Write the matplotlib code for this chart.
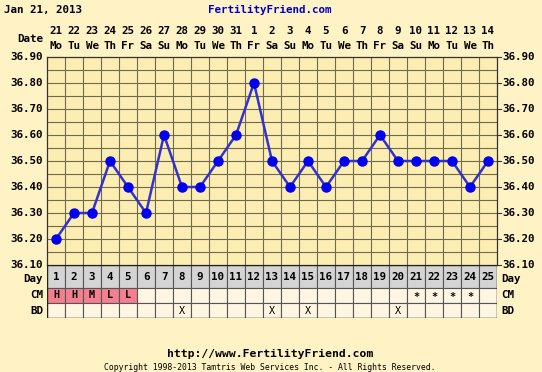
import matplotlib
matplotlib.use("Agg")
import matplotlib.pyplot as plt
import matplotlib.transforms as mtransforms
from matplotlib.patches import Rectangle
import numpy as np

days = list(range(1, 26))
dates = ["21","22","23","24","25","26","27","28","29","30","31","1","2","3","4","5","6","7","8","9","10","11","12","13","14"]
weekdays = ["Mo","Tu","We","Th","Fr","Sa","Su","Mo","Tu","We","Th","Fr","Sa","Su","Mo","Tu","We","Th","Fr","Sa","Su","Mo","Tu","We","Th"]
temps = [36.20,36.30,36.30,36.50,36.40,36.30,36.60,36.40,36.40,36.50,36.60,36.80,36.50,
         36.40,36.50,36.40,36.50,36.50,36.60,36.50,36.50,36.50,36.50,36.40,36.50]
cm = ["H","H","M","L","L","","","","","","","","","","","","","","","","*","*","*","*",""]
cm_pink = [True]*5 + [False]*20
bd = ["","","","","","","","X","","","","","X","","X","","","","","X","","","","",""]
yticks = [36.10,36.20,36.30,36.40,36.50,36.60,36.70,36.80,36.90]

W, H = 542, 372
BG = "#FFF3C6"
PLOT_BG = "#FCEDB3"
CELL = "#FFF6E2"
GRID = "#6F6A4E"
MONO = "DejaVu Sans Mono"

fig = plt.figure(figsize=(W/100, H/100), dpi=100)
fig.patch.set_facecolor(BG)

def fx(px): return px / W
def fy(py): return 1 - py / H

L, R, T, B = 47, 497, 57, 265
ax = fig.add_axes([fx(L), fy(B), fx(R - L), (B - T) / H])
ax.set_facecolor(PLOT_BG)
ax.set_xlim(0.5, 25.5)
ax.set_ylim(36.10, 36.90)
for y in np.arange(36.15, 36.90, 0.05):
    ax.axhline(y, color=GRID, lw=0.8, zorder=1)
for x in np.arange(1.5, 25.5, 1.0):
    ax.axvline(x, color=GRID, lw=0.8, zorder=1)
for s in ax.spines.values():
    s.set_color("#333333"); s.set_linewidth(0.9)
ax.set_xticks([]); ax.set_yticks([])
ax.plot(days, temps, color="#3333CC", lw=1.8, zorder=3)
ax.plot(days, temps, "o", color="#0000EE", ms=6.5, zorder=4)

fs = 7.8
tr = mtransforms.blended_transform_factory(ax.transData, fig.transFigure)
for d, dt, wd in zip(days, dates, weekdays):
    ax.text(d, fy(31), dt, transform=tr, ha="center", va="center", fontsize=fs, family=MONO, weight="bold")
    ax.text(d, fy(46), wd, transform=tr, ha="center", va="center", fontsize=fs, family=MONO, weight="bold")
fig.text(fx(43), fy(39), "Date", ha="right", va="center", fontsize=fs, family=MONO, weight="bold")

try_ = mtransforms.blended_transform_factory(fig.transFigure, ax.transData)
for v in yticks:
    ax.text(fx(43), v, f"{v:.2f}", transform=try_, ha="right", va="center", fontsize=fs, family=MONO, weight="bold")
    ax.text(fx(502), v, f"{v:.2f}", transform=try_, ha="left", va="center", fontsize=fs, family=MONO, weight="bold")
for v in yticks:
    ax.plot([25.5, 25.7], [v, v], color="#333333", lw=0.8, clip_on=False)

# table
TB = 318
tax = fig.add_axes([fx(L), fy(TB), fx(R - L), (TB - B) / H])
tax.set_xlim(0.5, 25.5)
rows_px = [B, 288, 303, TB]
tax.set_ylim(TB, B)
tax.axis("off")
for i, d in enumerate(days):
    x0 = d - 0.5
    tax.add_patch(Rectangle((x0, rows_px[0]), 1, rows_px[1]-rows_px[0], facecolor="#D4D4D4", edgecolor="#555555", lw=0.8))
    tax.add_patch(Rectangle((x0, rows_px[1]), 1, rows_px[2]-rows_px[1], facecolor="#F4808F" if cm_pink[i] else CELL, edgecolor="#555555", lw=0.8))
    tax.add_patch(Rectangle((x0, rows_px[2]), 1, rows_px[3]-rows_px[2], facecolor=CELL, edgecolor="#555555", lw=0.8))
    tax.text(d, (rows_px[0]+rows_px[1])/2 + 1, str(d), ha="center", va="center", fontsize=fs, family=MONO, weight="bold")
    if cm[i]:
        tax.text(d, (rows_px[1]+rows_px[2])/2 + (1.5 if cm[i] == "*" else 0), cm[i], ha="center", va="center", fontsize=fs-0.5, family=MONO, weight="bold")
    if bd[i]:
        tax.text(d, (rows_px[2]+rows_px[3])/2, bd[i], ha="center", va="center", fontsize=fs-0.5, family=MONO)
tax.add_patch(Rectangle((0.5, B), 25, TB - B, facecolor="none", edgecolor="#222222", lw=1.0))

for lab, yc in zip(["Day", "CM", "BD"], [(rows_px[0]+rows_px[1])/2 + 2, (rows_px[1]+rows_px[2])/2, (rows_px[2]+rows_px[3])/2]):
    fig.text(fx(43), fy(yc), lab, ha="right", va="center", fontsize=fs, family=MONO, weight="bold")
    fig.text(fx(501), fy(yc), lab, ha="left", va="center", fontsize=fs, family=MONO, weight="bold")

fig.text(fx(4), fy(10), "Jan 21, 2013", ha="left", va="center", fontsize=fs, family=MONO, weight="bold")
fig.text(fx(270), fy(10), "FertilityFriend.com", ha="center", va="center", fontsize=fs, family=MONO, weight="bold", color="#0000C0")
fig.text(fx(270), fy(354), "http://www.FertilityFriend.com", ha="center", va="center", fontsize=fs + 0.4, family=MONO, weight="bold")
fig.text(fx(270), fy(367), "Copyright 1998-2013 Tamtris Web Services Inc. - All Rights Reserved.", ha="center", va="center", fontsize=5.9, family=MONO)

fig.savefig("out.png", dpi=100, facecolor=BG)
